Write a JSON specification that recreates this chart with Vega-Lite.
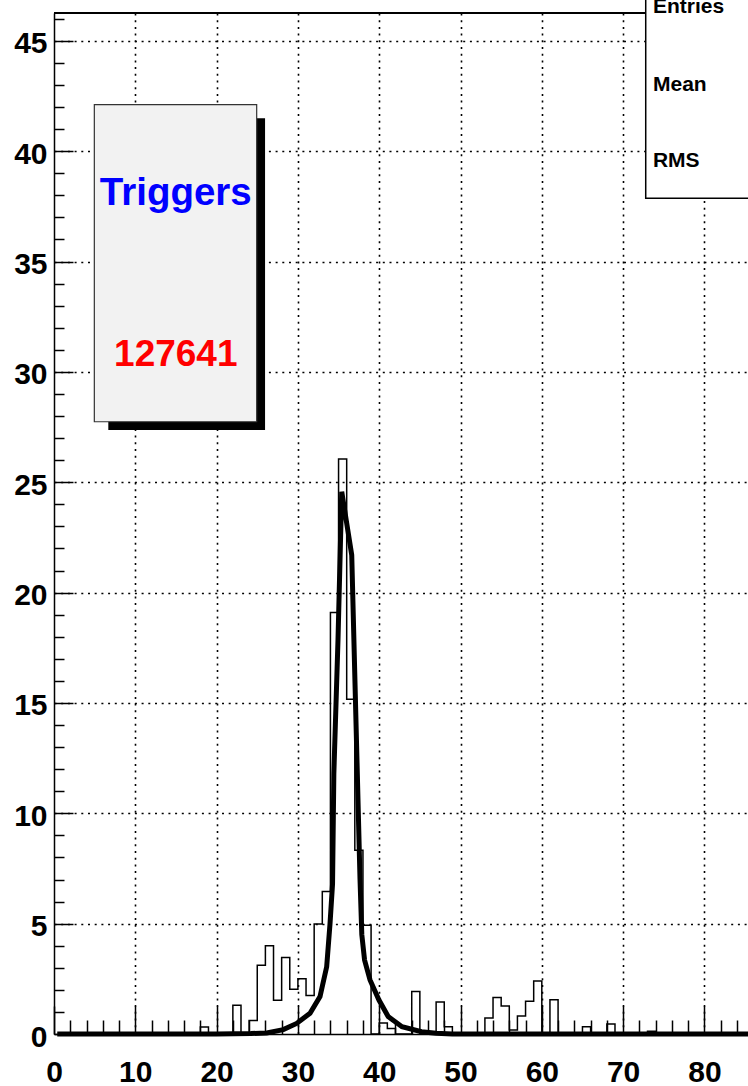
{
  "$schema": "https://vega.github.io/schema/vega-lite/v6.json",
  "width": 694,
  "height": 1021,
  "autosize": {"type": "none"},
  "padding": {"left": 54, "top": 13, "right": 0, "bottom": 52},
  "background": "white",
  "config": {"view": {"stroke": null}, "font": "Liberation Sans"},
  "datasets": {
    "hist": [
      {"bin": 17, "count": 0}, {"bin": 18, "count": 0.32}, {"bin": 19, "count": 0}, {"bin": 20, "count": 0},
      {"bin": 21, "count": 0}, {"bin": 22, "count": 1.3}, {"bin": 23, "count": 0}, {"bin": 24, "count": 0.61},
      {"bin": 25, "count": 3.12}, {"bin": 26, "count": 4.0}, {"bin": 27, "count": 1.53}, {"bin": 28, "count": 3.47},
      {"bin": 29, "count": 2.03}, {"bin": 30, "count": 2.5}, {"bin": 31, "count": 1.75}, {"bin": 32, "count": 4.98},
      {"bin": 33, "count": 6.46}, {"bin": 34, "count": 19.1}, {"bin": 35, "count": 26.05}, {"bin": 36, "count": 15.17},
      {"bin": 37, "count": 8.32}, {"bin": 38, "count": 4.93}, {"bin": 39, "count": 0}, {"bin": 40, "count": 0.5},
      {"bin": 41, "count": 0.25}, {"bin": 42, "count": 0}, {"bin": 43, "count": 0}, {"bin": 44, "count": 1.93},
      {"bin": 45, "count": 0}, {"bin": 46, "count": 0}, {"bin": 47, "count": 1.45}, {"bin": 48, "count": 0.33},
      {"bin": 49, "count": 0}, {"bin": 50, "count": 0}, {"bin": 51, "count": 0}, {"bin": 52, "count": 0},
      {"bin": 53, "count": 0.73}, {"bin": 54, "count": 1.65}, {"bin": 55, "count": 1.27}, {"bin": 56, "count": 0.18},
      {"bin": 57, "count": 0.82}, {"bin": 58, "count": 1.48}, {"bin": 59, "count": 2.4}, {"bin": 60, "count": 0},
      {"bin": 61, "count": 1.55}, {"bin": 62, "count": 0}, {"bin": 63, "count": 0}, {"bin": 64, "count": 0},
      {"bin": 65, "count": 0.33}, {"bin": 66, "count": 0}, {"bin": 67, "count": 0}, {"bin": 68, "count": 0.45},
      {"bin": 69, "count": 0}, {"bin": 70, "count": 0}, {"bin": 71, "count": 0}, {"bin": 72, "count": 0},
      {"bin": 73, "count": 0.12}, {"bin": 74, "count": 0}, {"bin": 75, "count": 0}
    ],
    "fit": [
      {"x": 0.4, "y": 0}, {"x": 20, "y": 0}, {"x": 24.2, "y": 0.02}, {"x": 26.16, "y": 0.05},
      {"x": 28.2, "y": 0.2}, {"x": 29.85, "y": 0.48}, {"x": 31.49, "y": 0.94}, {"x": 32.72, "y": 1.7},
      {"x": 33.54, "y": 3.05}, {"x": 33.95, "y": 5.0}, {"x": 34.26, "y": 6.8}, {"x": 34.42, "y": 11.8},
      {"x": 34.93, "y": 17.85}, {"x": 35.39, "y": 24.57}, {"x": 36.62, "y": 21.7}, {"x": 37.64, "y": 7.0},
      {"x": 37.86, "y": 4.5}, {"x": 38.2, "y": 3.35}, {"x": 38.87, "y": 2.45}, {"x": 39.97, "y": 1.54},
      {"x": 41.1, "y": 0.79}, {"x": 42.8, "y": 0.33}, {"x": 45.2, "y": 0.1}, {"x": 47, "y": 0.03},
      {"x": 49, "y": 0}, {"x": 88, "y": 0}
    ],
    "shadow": [{"x1": 6.68, "x2": 25.96, "y1": 27.37, "y2": 41.49}],
    "tbox": [{"x1": 4.96, "x2": 24.93, "y1": 27.74, "y2": 42.11}],
    "stats": [{"x1": 72.78, "x2": 95, "y1": 37.87, "y2": 50}],
    "statlabels": [
      {"x": 73.67, "y": 46.25, "text": "Entries"},
      {"x": 73.67, "y": 42.74, "text": "Mean"},
      {"x": 73.67, "y": 39.27, "text": "RMS"}
    ],
    "title1": [{"x": 14.98, "y": 37.56, "text": "Triggers"}],
    "title2": [{"x": 14.98, "y": 30.28, "text": "127641"}]
  },
  "layer": [
    {
      "data": {"name": "hist"},
      "mark": {"type": "line", "interpolate": "step-after", "stroke": "black", "strokeWidth": 1.5},
      "encoding": {
        "x": {
          "field": "bin", "type": "quantitative",
          "scale": {"domain": [0, 85.36], "nice": false, "zero": false},
          "axis": {
            "title": null,
            "tickCount": 200,
            "format": "d",
            "values": [0,2,4,6,8,10,12,14,16,18,20,22,24,26,28,30,32,34,36,38,40,42,44,46,48,50,52,54,56,58,60,62,64,66,68,70,72,74,76,78,80,82,84],
            "labelExpr": "datum.value % 10 === 0 ? datum.label : ''",
            "labelOverlap": false, "labelFlush": false, "labelBound": false,
            "labelFont": "Liberation Sans", "labelFontWeight": "bold", "labelFontSize": 30, "labelColor": "black",
            "labelPadding": 51,
            "tickSize": {"condition": {"test": "datum.value % 10 === 0", "value": -28}, "value": -14},
            "tickColor": "black", "tickWidth": 1.5,
            "domainColor": "black", "domainWidth": 1.5,
            "grid": true, "gridColor": "black", "gridWidth": 1.6, "gridDash": [2, 4.7],
            "gridOpacity": {"condition": {"test": "datum.value % 10 === 0 && datum.value > 0", "value": 1}, "value": 0}
          }
        },
        "y": {
          "field": "count", "type": "quantitative",
          "scale": {"domain": [0, 46.26], "nice": false, "zero": false},
          "axis": {
            "title": null,
            "tickCount": 200,
            "format": "d",
            "values": [0,1,2,3,4,5,6,7,8,9,10,11,12,13,14,15,16,17,18,19,20,21,22,23,24,25,26,27,28,29,30,31,32,33,34,35,36,37,38,39,40,41,42,43,44,45,46],
            "labelExpr": "datum.value % 5 === 0 ? datum.label : ''",
            "labelOverlap": false, "labelFlush": false, "labelBound": false,
            "labelFont": "Liberation Sans", "labelFontWeight": "bold", "labelFontSize": 30, "labelColor": "black",
            "labelPadding": 26, "labelOffset": 3,
            "tickSize": {"condition": {"test": "datum.value % 5 === 0", "value": -19}, "value": -10},
            "tickColor": "black", "tickWidth": 1.5,
            "domainColor": "black", "domainWidth": 1.5,
            "grid": true, "gridColor": "black", "gridWidth": 1.6, "gridDash": [2, 4.7],
            "gridOpacity": {"condition": {"test": "datum.value % 5 === 0 && datum.value > 0", "value": 1}, "value": 0}
          }
        }
      }
    },
    {
      "data": {"name": "hist"},
      "mark": {"type": "rule", "stroke": "black", "strokeWidth": 1.5},
      "encoding": {"y": {"datum": 46.26, "type": "quantitative"}}
    },
    {
      "data": {"name": "fit"},
      "mark": {"type": "line", "stroke": "black", "strokeWidth": 5, "strokeJoin": "miter"},
      "encoding": {
        "x": {"field": "x", "type": "quantitative"},
        "y": {"field": "y", "type": "quantitative"}
      }
    },
    {
      "data": {"name": "shadow"},
      "mark": {"type": "rect", "fill": "black"},
      "encoding": {
        "x": {"field": "x1", "type": "quantitative"}, "x2": {"field": "x2"},
        "y": {"field": "y1", "type": "quantitative"}, "y2": {"field": "y2"}
      }
    },
    {
      "data": {"name": "tbox"},
      "mark": {"type": "rect", "fill": "#f2f2f2", "stroke": "#333333", "strokeWidth": 1.2},
      "encoding": {
        "x": {"field": "x1", "type": "quantitative"}, "x2": {"field": "x2"},
        "y": {"field": "y1", "type": "quantitative"}, "y2": {"field": "y2"}
      }
    },
    {
      "data": {"name": "stats"},
      "mark": {"type": "rect", "fill": "white", "stroke": "black", "strokeWidth": 1.5},
      "encoding": {
        "x": {"field": "x1", "type": "quantitative"}, "x2": {"field": "x2"},
        "y": {"field": "y1", "type": "quantitative"}, "y2": {"field": "y2"}
      }
    },
    {
      "data": {"name": "statlabels"},
      "mark": {"type": "text", "align": "left", "baseline": "alphabetic", "font": "Liberation Sans", "fontWeight": "bold", "fontSize": 21, "fill": "black"},
      "encoding": {
        "x": {"field": "x", "type": "quantitative"},
        "y": {"field": "y", "type": "quantitative"},
        "text": {"field": "text"}
      }
    },
    {
      "data": {"name": "title1"},
      "mark": {"type": "text", "align": "center", "baseline": "alphabetic", "font": "Liberation Sans", "fontWeight": "bold", "fontSize": 38.5, "fill": "#0000ff"},
      "encoding": {
        "x": {"field": "x", "type": "quantitative"},
        "y": {"field": "y", "type": "quantitative"},
        "text": {"field": "text"}
      }
    },
    {
      "data": {"name": "title2"},
      "mark": {"type": "text", "align": "center", "baseline": "alphabetic", "font": "Liberation Sans", "fontWeight": "bold", "fontSize": 37, "fill": "#ff0000"},
      "encoding": {
        "x": {"field": "x", "type": "quantitative"},
        "y": {"field": "y", "type": "quantitative"},
        "text": {"field": "text"}
      }
    }
  ]
}
